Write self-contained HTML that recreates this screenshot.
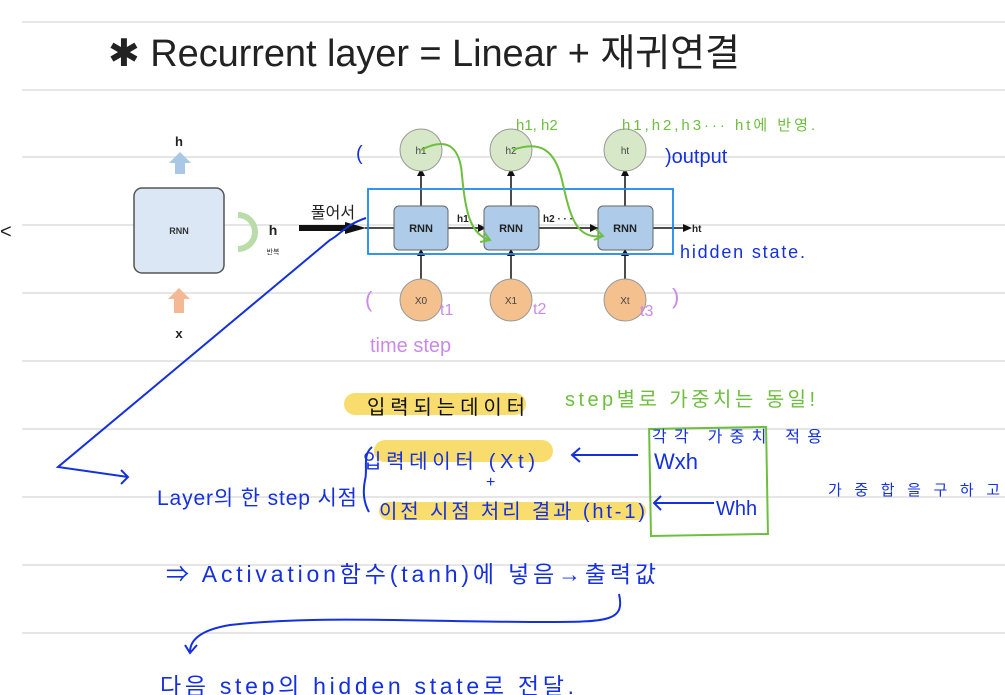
<!DOCTYPE html>
<html><head><meta charset="utf-8"><style>
html,body{margin:0;padding:0;background:#fff;}
svg{display:block;}
text{font-family:"Liberation Sans","Noto Sans CJK KR",sans-serif;}
</style></head><body>
<svg width="1005" height="695" viewBox="0 0 1005 695" xmlns="http://www.w3.org/2000/svg">
<g stroke="#d8d8d8" stroke-width="1.2">
<line x1="22" y1="22" x2="1005" y2="22"/><line x1="22" y1="90" x2="1005" y2="90"/>
<line x1="22" y1="157" x2="1005" y2="157"/><line x1="22" y1="225" x2="1005" y2="225"/>
<line x1="22" y1="293" x2="1005" y2="293"/><line x1="22" y1="361" x2="1005" y2="361"/>
<line x1="22" y1="429" x2="1005" y2="429"/><line x1="22" y1="497" x2="1005" y2="497"/>
<line x1="22" y1="565" x2="1005" y2="565"/><line x1="22" y1="633" x2="1005" y2="633"/>
</g>
<!-- yellow highlights (under text) -->
<g fill="#f7d54a" opacity="0.8">
<rect x="344" y="393" width="182" height="22" rx="11"/>
<rect x="374" y="440" width="179" height="22" rx="11"/>
<rect x="379" y="502" width="267" height="18" rx="9"/>
</g>
<!-- title -->
<text x="108" y="66" font-size="38" fill="#222" textLength="632">✱ Recurrent layer = Linear + 재귀연결</text>
<text x="0" y="238" font-size="20" fill="#222">&lt;</text>

<!-- left RNN -->
<text x="179" y="146" font-size="13" font-weight="bold" text-anchor="middle" fill="#222">h</text>
<path d="M175 174 L175 163 L169 163 L180 152 L191 163 L185 163 L185 174Z" fill="#a9c8e6"/>
<rect x="134" y="188" width="90" height="85" rx="8" fill="#dbe7f5" stroke="#555" stroke-width="1.5"/>
<text x="179" y="234" font-size="9" font-weight="bold" text-anchor="middle" fill="#333">RNN</text>
<path d="M238 215 A17 17 0 1 1 238 249" fill="none" stroke="#b9dca8" stroke-width="6"/>
<text x="273" y="235" font-size="14" font-weight="bold" text-anchor="middle" fill="#222">h</text>
<text x="273" y="254" font-size="7" text-anchor="middle" fill="#333">반복</text>
<path d="M174 313 L174 299 L168 299 L179 288 L190 299 L184 299 L184 313Z" fill="#f4b894"/>
<text x="179" y="338" font-size="13" font-weight="bold" text-anchor="middle" fill="#222">x</text>

<!-- unrolled -->
<text x="333" y="218" font-size="16" text-anchor="middle" fill="#222">풀어서</text>
<path d="M299 225 L345 225 L345 222 L366 228 L345 234 L345 231 L299 231Z" fill="#111"/>
<line x1="365" y1="228" x2="683" y2="228" stroke="#111" stroke-width="1.5"/>
<path d="M683 224 L692 228 L683 232Z" fill="#111"/>
<text x="692" y="232" font-size="10" font-weight="bold" fill="#222">ht</text>
<text x="457" y="222" font-size="10" font-weight="bold" fill="#222">h1</text>
<text x="543" y="222" font-size="10" font-weight="bold" fill="#222">h2 · · ·</text>
<path d="M478 224 L486 228 L478 232Z" fill="#111"/><path d="M590 224 L598 228 L590 232Z" fill="#111"/>
<g stroke="#111" stroke-width="1.5">
<line x1="421" y1="172" x2="421" y2="206"/><line x1="511" y1="172" x2="511" y2="206"/><line x1="625" y1="172" x2="625" y2="206"/>
<line x1="421" y1="250" x2="421" y2="279"/><line x1="511" y1="250" x2="511" y2="279"/><line x1="625" y1="250" x2="625" y2="279"/>
</g>
<g fill="#111"><path d="M417 176 L421 168 L425 176Z"/><path d="M507 176 L511 168 L515 176Z"/><path d="M621 176 L625 168 L629 176Z"/>
<path d="M417 256 L421 249 L425 256Z"/><path d="M507 256 L511 249 L515 256Z"/><path d="M621 256 L625 249 L629 256Z"/></g>
<g fill="#aecbea" stroke="#666" stroke-width="1">
<rect x="394" y="206" width="54" height="44" rx="5"/><rect x="484" y="206" width="55" height="44" rx="5"/><rect x="598" y="206" width="55" height="44" rx="5"/></g>
<g font-size="11" font-weight="bold" text-anchor="middle" fill="#222">
<text x="421" y="232">RNN</text><text x="511" y="232">RNN</text><text x="625" y="232">RNN</text></g>
<g fill="#d6e8c8" stroke="#999"><circle cx="421" cy="150" r="21"/><circle cx="511" cy="150" r="21"/><circle cx="625" cy="150" r="21"/></g>
<g fill="#f4c08e" stroke="#999"><circle cx="421" cy="300" r="21"/><circle cx="511" cy="300" r="21"/><circle cx="625" cy="300" r="21"/></g>
<g font-size="10" text-anchor="middle" fill="#444">
<text x="421" y="154">h1</text><text x="511" y="154">h2</text><text x="625" y="154">ht</text>
<text x="421" y="304">X0</text><text x="511" y="304">X1</text><text x="625" y="304">Xt</text></g>
<rect x="368" y="189" width="305" height="65" fill="none" stroke="#1e88f0" stroke-width="1.8"/>

<!-- green annotations -->
<g fill="none" stroke="#6dbf3e" stroke-width="2">
<path d="M421 150 C450 135 460 150 462 175 C465 210 470 235 490 240"/>
<path d="M484 232 L490 240 L480 242"/>
<path d="M513 150 C540 140 555 150 562 180 C570 215 575 240 603 236"/>
<path d="M596 229 L603 236 L594 240"/>
<rect x="650" y="428" width="117" height="107" transform="rotate(-1 708 480)"/>
</g>
<g fill="#6dbf3e" font-size="15">
<text x="516" y="130">h1, h2</text>
<text x="622" y="130" textLength="193">h1,h2,h3··· ht에 반영.</text>
<text x="565" y="406" font-size="20" textLength="250">step별로 가중치는 동일!</text>
</g>

<!-- blue annotations -->
<g fill="#1530dd">
<text x="356" y="160" font-size="20">(</text>
<text x="665" y="163" font-size="20">)output</text>
<text x="680" y="258" font-size="18" textLength="125">hidden state.</text>
<text x="652" y="442" font-size="16" textLength="170">각각 가중치 적용</text>
<text x="363" y="468" font-size="20" textLength="172">입력데이터 (Xt)</text>
<text x="486" y="487" font-size="16">+</text>
<text x="379" y="518" font-size="20" textLength="266">이전 시점 처리 결과 (ht-1)</text>
<text x="654" y="469" font-size="22">Wxh</text>
<text x="716" y="515" font-size="20">Whh</text>
<text x="157" y="505" font-size="21" textLength="200">Layer의 한 step 시점</text>
<text x="828" y="495" font-size="15" textLength="172">가중합을구하고</text>
<text x="166" y="582" font-size="23" textLength="490">⇒ Activation함수(tanh)에 넣음→출력값</text>
<text x="160" y="694" font-size="23" textLength="414">다음 step의 hidden state로 전달.</text>
</g>
<g fill="none" stroke="#1530dd" stroke-width="2">
<path d="M366 218 C345 225 340 235 330 240 L58 467 L128 477"/>
<path d="M121 470 L128 477 L121 484"/>
<path d="M372 447 C362 455 368 470 365 480 C362 495 365 505 369 512"/>
<path d="M638 455 L572 455 M580 448 L572 455 L580 462"/>
<path d="M714 503 L654 503 M661 496 L654 503 L661 510"/>
<path d="M619 594 C625 620 610 622 550 622 C420 622 320 615 230 625 C200 630 190 640 190 652"/>
<path d="M185 645 L190 653 L197 645"/>
</g>

<text x="367" y="414" font-size="20" fill="#111" textLength="158">입력되는데이터</text>

<!-- purple -->
<g fill="#c98ae8">
<text x="365" y="307" font-size="22">(</text>
<text x="440" y="315" font-size="16">t1</text>
<text x="533" y="314" font-size="16">t2</text>
<text x="640" y="316" font-size="16">t3</text>
<text x="672" y="304" font-size="22">)</text>
<text x="370" y="352" font-size="20">time step</text>
</g>
</svg>
</body></html>
